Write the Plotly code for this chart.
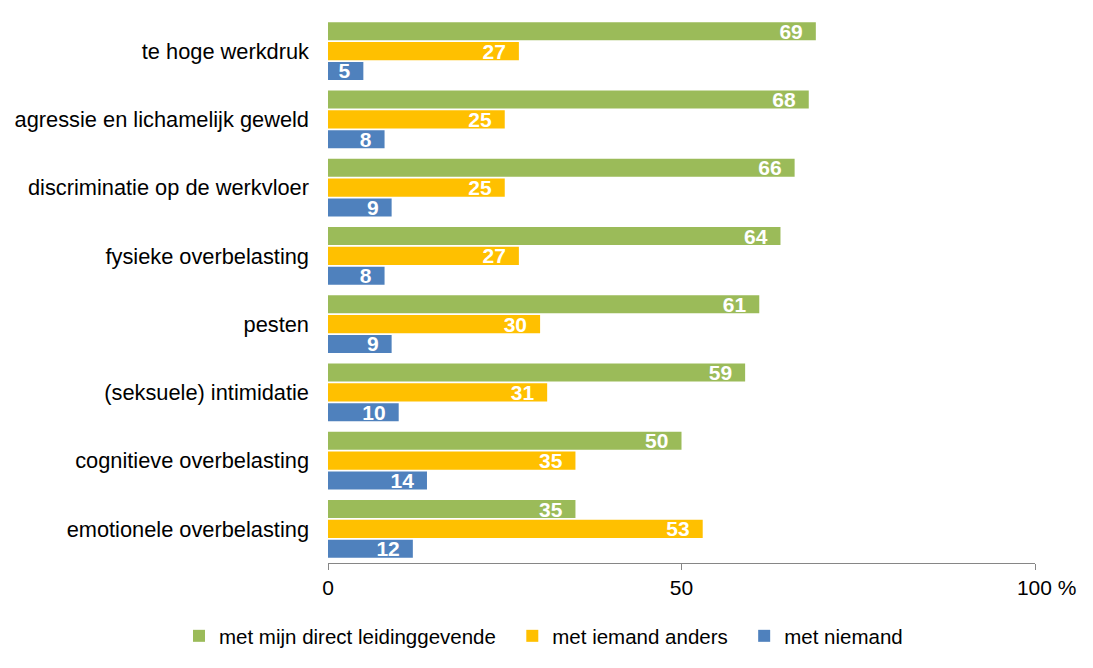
import plotly.graph_objects as go

categories = [
    "te hoge werkdruk",
    "agressie en lichamelijk geweld",
    "discriminatie op de werkvloer",
    "fysieke overbelasting",
    "pesten",
    "(seksuele) intimidatie",
    "cognitieve overbelasting",
    "emotionele overbelasting",
]
series_names = ["met mijn direct leidinggevende", "met iemand anders", "met niemand"]
leidinggevende = [69, 68, 66, 64, 61, 59, 50, 35]
iemand_anders = [27, 25, 25, 27, 30, 31, 35, 53]
niemand = [5, 8, 9, 8, 9, 10, 14, 12]
colors = ["#9BBB59", "#FFC000", "#4F81BD"]
tick_vals = [0, 50, 100]
NB = "\u00a0"
tick_text = ["0", "50", NB * 4 + "100 %"]

FONT = "Liberation Sans, Arial, sans-serif"

fig = go.Figure()
legend_pad = [NB * 2, NB * 2, ""]
for name, vals, col, pad in zip(series_names, [leidinggevende, iemand_anders, niemand], colors, legend_pad):
    fig.add_trace(go.Bar(
        y=categories, x=vals, orientation="h", name=name + pad,
        marker=dict(color=col, line=dict(width=0)),
        text=vals, texttemplate="<b>%{x}</b>" + NB + "\u2009",
        textposition="inside", insidetextanchor="end", textangle=0,
        textfont=dict(color="white", size=21, family=FONT),
        constraintext="none",
    ))

W, H = 1093, 668
ML, MR, MT, MB = 328, 58, 17, 105
PW, PH = W - ML - MR, H - MT - MB

fig.update_layout(
    width=W, height=H,
    margin=dict(l=ML, r=MR, t=MT, b=MB),
    barmode="group", bargap=0.13, bargroupgap=0.09,
    plot_bgcolor="white", paper_bgcolor="white",
    font=dict(family=FONT, size=21, color="black"),
    showlegend=True,
    legend=dict(
        orientation="h",
        x=(179 - ML) / PW, xanchor="left",
        y=-(636 - (MT + PH)) / PH, yanchor="middle",
        font=dict(size=20.5, family=FONT), traceorder="normal",
    ),
)
fig.update_xaxes(
    range=[0, 100], tickvals=tick_vals, ticktext=tick_text,
    showgrid=False, zeroline=False, showline=True, linecolor="#868686", linewidth=1,
    ticks="outside", ticklen=6, tickcolor="#868686",
    tickfont=dict(size=21, family=FONT), fixedrange=True,
)
fig.update_yaxes(
    autorange="reversed", showgrid=False, zeroline=False, showline=False,
    ticks="", ticklabelstandoff=18, tickfont=dict(size=21.8, family=FONT),
)
fig.write_html(
    "out.html",
    config={"displayModeBar": False},
    post_script="document.body.style.margin='0';",
)
